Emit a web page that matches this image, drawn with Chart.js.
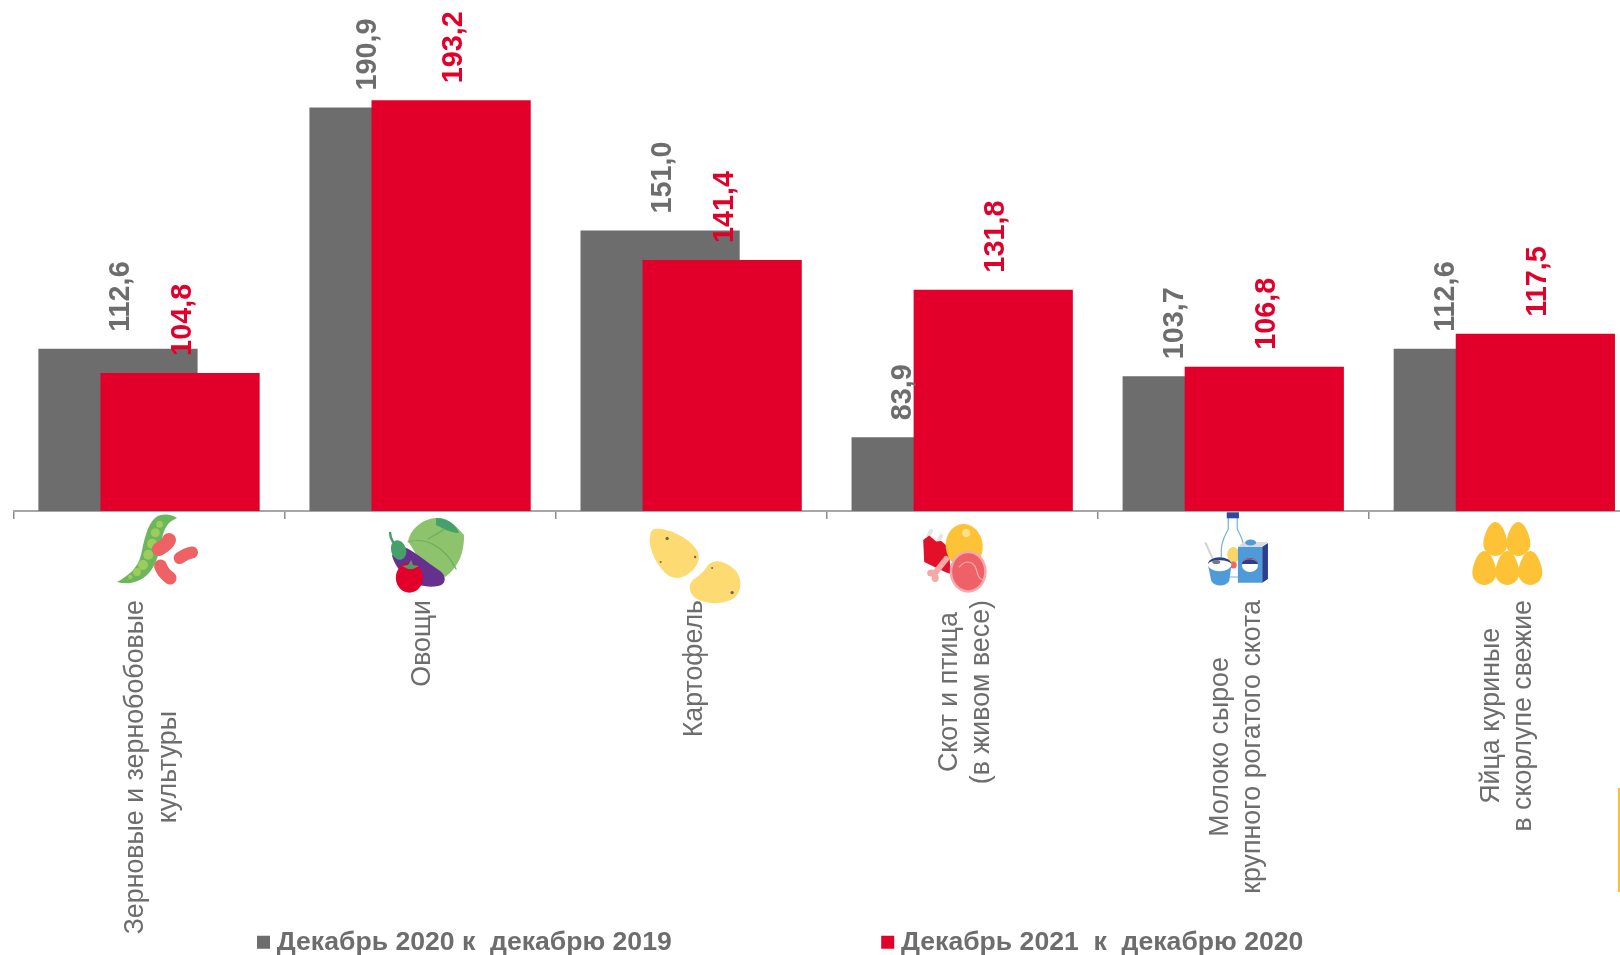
<!DOCTYPE html>
<html><head><meta charset="utf-8">
<style>html,body{margin:0;padding:0;background:#fff;overflow:hidden;width:1620px;height:955px}canvas{display:block}</style>
<script src="https://cdn.jsdelivr.net/npm/chart.js@4/dist/chart.umd.min.js"></script>
</head><body><canvas id="c" width="1650" height="955"></canvas>
<script>
const categories=[["Зерновые и зернобобовые","культуры"],["Овощи"],["Картофель"],["Скот и птица","(в живом весе)"],["Молоко сырое","крупного рогатого скота"],["Яйца куриные","в скорлупе свежие"]];
const series2020=[112.6,190.9,151.0,83.9,103.7,112.6];
const series2021=[104.8,193.2,141.4,131.8,106.8,117.5];
const seriesNames=["Декабрь 2020 к  декабрю 2019","Декабрь 2021  к  декабрю 2020"];
const axisMin=60,axisMax=225;
const GRAY="#6d6d6d",RED="#e2002a",FONT="'Liberation Sans'";
const labelShift=[[3,-21,3,-28,-27,-27],[3,3,3,3,3,3]];

const labelCentering={id:"labelCentering",beforeDraw(chart){
  const s=chart.scales.x,ctx=chart.ctx;
  if(s._centred&&s._centred===s._labelItems)return;
  const items=s.getLabelItems();
  items.forEach(it=>{
    ctx.save();ctx.font=it.font.string;
    const ls=Array.isArray(it.label)?it.label:[it.label];
    const w=Math.max(...ls.map(l=>ctx.measureText(l).width));ctx.restore();
    it.options.textAlign="center";
    const t=it.options.translation;
    it.options.translation=[t[0]+3-(ls.length-1)*it.font.lineHeight/2,t[1]+w/2];
  });
  s._centred=items;
}};
const legendPlace={id:"legendPlace",
  beforeLayout(chart){const l=chart.legend;if(l&&!l._p){const f=l.fit;l.fit=function(){f.call(this);this.height=0;};l._p=true;}},
  afterLayout(chart){const l=chart.legend,p=l.options.labels.padding;
    l.left=263.5-p;l.right=1650;l.top=945-p-16;l.bottom=955;l.width=l.right-l.left;l.height=l.bottom-l.top;}
};
const drawOrder={id:"drawOrder",
  beforeDatasetsDraw(chart){chart.getDatasetMeta(0).controller.draw();},
  beforeDatasetDraw(chart,args){if(args.index===0)return false;}
};
const valueLabels={id:"valueLabels",afterDatasetsDraw(chart){
  const ctx=chart.ctx;
  chart.data.datasets.forEach((d,i)=>{
    chart.getDatasetMeta(i).data.forEach((b,j)=>{
      ctx.save();ctx.translate(b.x+labelShift[i][j],b.y-17);ctx.rotate(-Math.PI/2);
      ctx.font="bold 28.8px "+FONT;ctx.fillStyle=d.backgroundColor;ctx.textAlign="left";ctx.textBaseline="middle";
      ctx.fillText(d.data[j].toFixed(1).replace(".",","),0,0);ctx.restore();
    });
  });
}};
function E(c,x,y,rx,ry,r,col){c.fillStyle=col;c.beginPath();c.ellipse(x,y,rx,ry,r||0,0,7);c.fill();}
function P(c,d,col){c.fillStyle=col;c.fill(new Path2D(d));}
function S(c,d,col,w){c.strokeStyle=col;c.lineWidth=w;c.lineCap="round";c.stroke(new Path2D(d));}
const icons=[
 c=>{P(c,"M-32 71C-20 64-12 58-8 44C-5 30-2 14 6 7C12 2 22 3 28 7C18 11 15 18 13 28C10 44 6 56-1 63C-10 72-22 74-32 71Z","#6cb65b");
     [[-18.7,66,2.2],[-12,61,4],[-6,54,5],[-0.7,43.7,5],[3,32.7,5],[6.3,21.7,4.5],[10.6,13.3,3.5]].forEach(p=>E(c,p[0],p[1],p[2],p[2],0,"#9ccb5e"));
     S(c,"M10 38C14 36 18 34 20 29","#ee6165",14);S(c,"M30.6 47C35 44 38 42 43 41.5","#ee6165",12);S(c,"M11.5 55C13 60 17 64 21 67","#ee6165",13);},
 c=>{P(c,"M-12 30C-8 15 5 7 18 7C30 7 38 18 44 24C44 40 40 55 25 66L0 50Z","#8cc36c");
     P(c,"M16 7C28 7 36 14 39 22C34 22 28 20 24 18L16 14Z","#46a06a");
     S(c,"M-12 31C4 26 24 34 36 58","#6fae5e",1.2);S(c,"M24 18C20 22 12 25 8 28","#6fae5e",1.2);
     S(c,"M-30 22C-30 26-29 28-27 31","#46a06a",2.5);
     P(c,"M-16 36C-6 40 8 52 20 60C27 65 26 74 18 75C0 78-10 70-20 60C-26 52-28 46-28 44Z","#66308f");
     E(c,-21.5,39,7.5,10,-0.3,"#46a06a");
     E(c,-10.7,66.7,13.5,15,0,"#e2002a");P(c,"M-18 55L-12 54L-9 49L-7 54L-1 55L-7 58L-12 58Z","#46a06a");},
 c=>{P(c,"M-37 18C-27 16-5 24 5 38C11 46 7 56-3 63C-13 70-23 68-31 56C-39 46-43 30-41 26C-41 22-40 19-37 18Z","#fedb72");
     P(c,"M17 54C25 46 37 52 45 60C51 68 51 80 43 87C33 94 13 94 3 86C-3 80-3 72 3 68C9 64 13 60 17 54Z","#fedb72");
     [[-24,27.5,1.7],[4,46,1.2],[-30.5,51,1],[21,57,1],[41,81.6,1.7]].forEach(p=>E(c,p[0],p[1],p[2],p[2],0,"#6f6a58"));},
 c=>{S(c,"M-34 25L-31 20","#e4e4e4",4);S(c,"M-24 30L-21 25","#e4e4e4",4);
     P(c,"M-39 29L-33 24.5L-26 30.6L-21 30L-14 36L-11 63L-16 61.6L-38 51Z","#e3102a");
     S(c,"M-16 48L-28 63","#f4a9a6",6);E(c,-31,62,4,3.5,0,"#f4a9a6");E(c,-27,67,3.5,4,0,"#f4a9a6");
     E(c,2,35,18.5,22,-0.1,"#fdc236");E(c,4,22,4,4,0,"#fde08a");
     E(c,6,60.7,18.5,21,0,"#f4a9ad");E(c,6,60.7,16,18.5,0,"#ee6166");S(c,"M-3 56C2 50 10 48 14 58C16 66 18 70 22 68","#f4a9ad",1.2);},
 c=>{P(c,"M-5 7H4V18C8 26 11 32 11 40V66H-12V40C-12 32-9 26-5 18Z","#ffffff");S(c,"M-5 7V18C-9 26-12 32-12 40V66H11V40C11 32 8 26 4 18V7","#6fb2e4",1.2);
     P(c,"M-6.5 1.3H5.7V7.3H-6.5Z","#2b4a9b");E(c,0,44,6,8,0,"#f8d66a");E(c,0,54,3.5,3.5,0,"#ef6a5e");
     P(c,"M4.7 35.7H29V71.7H4.7Z","#4f9bd9");P(c,"M29 35.7L34.7 32V68L29 71.7Z","#2b3f8f");P(c,"M4.7 35.7L10 31H34.7L29 35.7Z","#d9dbe0");
     E(c,17.4,31.5,5.5,3,0,"#4f9bd9");
     E(c,16.7,54.5,8,6.5,0,"#ffffff");P(c,"M8.7 53A8 6 0 0 1 24.7 53Z","#2b3f8f");S(c,"M9 50.5C12 47 21 47 24 50.5","#ef6a5e",1);
     S(c,"M-27.6 32L-20 49","#d4d4d4",2);
     P(c,"M-25 55H-2L-4 70C-8 76-18 76-22 70Z","#4f9bd9");E(c,-13.6,53.3,11.7,7,0,"#ffffff");P(c,"M-25.3 53.3A11.7 7 0 0 1-1.9 53.3A11.7 4 0 0 0-25.3 53.3Z","#2b3f8f");E(c,-17,51,4,2,0,"#777777");},
 c=>{[[-9,28],[14,28],[-20,57],[3,57],[26,57]].forEach(p=>P(c,`M${p[0]} ${p[1]-17}C${p[0]+7} ${p[1]-17} ${p[0]+12} ${p[1]-2} ${p[0]+12} ${p[1]+5}C${p[0]+12} ${p[1]+12} ${p[0]+6} ${p[1]+17} ${p[0]} ${p[1]+17}C${p[0]-6} ${p[1]+17} ${p[0]-12} ${p[1]+12} ${p[0]-12} ${p[1]+5}C${p[0]-12} ${p[1]-2} ${p[0]-7} ${p[1]-17} ${p[0]} ${p[1]-17}Z`,"#fdc236"));}
];
const decor={id:"decor",afterDraw(chart){
  const ctx=chart.ctx,x=chart.scales.x,base=chart.chartArea.bottom;
  icons.forEach((f,i)=>{ctx.save();ctx.translate(x.getPixelForValue(i),base);f(ctx);ctx.restore();});
  ctx.fillStyle="#fbc02d";ctx.fillRect(1618,788,2,104);
}};
new Chart(document.getElementById("c"),{
 type:"bar",
 data:{labels:categories,datasets:[
  {label:seriesNames[0],data:series2020,backgroundColor:GRAY,base:axisMin},
  {label:seriesNames[1],data:series2021,backgroundColor:RED,base:axisMin}]},
 plugins:[labelCentering,legendPlace,drawOrder,valueLabels,decor],
 options:{responsive:false,animation:false,
  categoryPercentage:0.458,barPercentage:2.565,
  layout:{padding:{left:13.5,right:4.5,top:2.3,bottom:0}},
  plugins:{tooltip:{enabled:false},
   legend:{position:"bottom",align:"start",labels:{usePointStyle:true,pointStyle:"rect",boxWidth:0.01,boxHeight:13,padding:216,color:GRAY,font:{family:FONT,size:26.6,weight:"bold"}}}},
  scales:{
   x:{afterFit(s){s.height=444;},
      border:{color:"#a6a6a6",width:2},
      grid:{display:true,drawOnChartArea:false,drawTicks:true,tickLength:8,color:"#8c8c8c",lineWidth:1.5},
      ticks:{autoSkip:false,minRotation:90,maxRotation:90,padding:81,color:"#6d6d6d",font:{family:FONT,size:26.8}}},
   y:{display:false,min:axisMin,max:axisMax,beginAtZero:false}
  }}
});
</script></body></html>
